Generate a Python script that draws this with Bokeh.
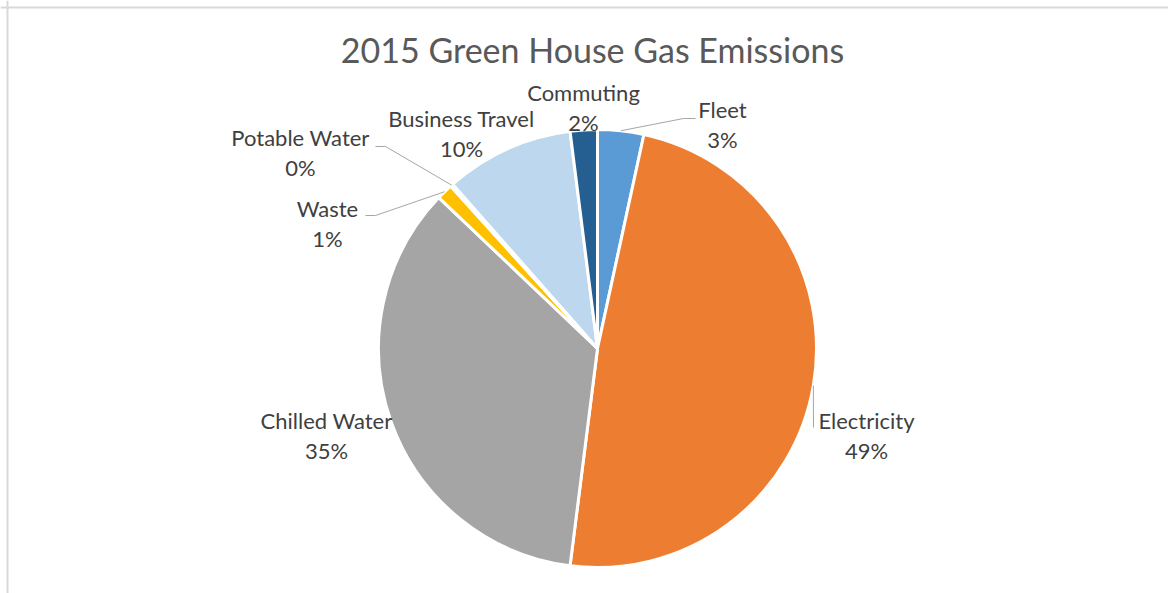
import math
from bokeh.plotting import figure
from bokeh.models import Range1d, Span, ColumnDataSource
from bokeh.core.properties import value
from bokeh.embed import file_html
from bokeh.resources import INLINE

# ---- data ----
categories = ["Fleet", "Electricity", "Chilled Water", "Waste", "Potable Water", "Business Travel", "Commuting"]
shares = [3.4, 48.6, 35.1, 1.2, 0.2, 9.5, 2.0]
colors = ["#5B9BD5", "#ED7D31", "#A5A5A5", "#FFC000", "#4472C4", "#BDD7EE", "#255E91"]
title_text = "2015 Green House Gas Emissions"

# ---- layout (pixel space, origin bottom-left of the plot) ----
W, H = 1168, 593
CX, CY, R = 597, 245, 219
FONT = "Lato"
LABEL_SIZE = "22px"

# label centre offsets (dx, dy) from pie centre for the name line
label_offsets = {
    "Fleet": (125, 239),
    "Electricity": (269, -72),
    "Chilled Water": (-271, -72),
    "Waste": (-270, 140),
    "Potable Water": (-297, 211),
    "Business Travel": (-136, 230),
    "Commuting": (-14, 256),
}
# leader lines: elbow and end offsets from centre
leaders = {
    "Fleet": [(86, 230), (98, 230)],
    "Electricity": [(216, -79), (216, -79)],
    "Potable Water": [(-212, 202), (-222, 202)],
    "Waste": [(-222, 133), (-232, 133)],
}

p = figure(width=W, height=H, output_backend="svg", toolbar_location=None,
           x_range=Range1d(0, W), y_range=Range1d(0, H), min_border=0)
p.axis.visible = False
p.grid.visible = False
p.outline_line_color = None
p.background_fill_color = "white"
p.border_fill_color = "white"

# chart-area border (left and top edges visible)
p.add_layout(Span(location=7, dimension="height", line_color="#d9d9d9", line_width=2))
p.add_layout(Span(location=H - 7, dimension="width", line_color="#d9d9d9", line_width=2))

total = sum(shares)
starts, ends, mids = [], [], []
cum = 0.0
for v in shares:
    a0 = cum / total
    cum += v
    a1 = cum / total
    # clockwise from 12 o'clock -> bokeh anticlockwise angles
    starts.append(math.pi / 2 - a1 * 2 * math.pi)
    ends.append(math.pi / 2 - a0 * 2 * math.pi)
    mids.append(math.pi / 2 - (a0 + a1) / 2 * 2 * math.pi)

src = ColumnDataSource(dict(cat=categories, start=starts, end=ends, color=colors,
                            x=[CX] * len(shares), y=[CY] * len(shares)))
p.wedge(x="x", y="y", radius=R, start_angle="start", end_angle="end",
        fill_color="color", line_color="white", line_width=3, source=src)

# leader lines
for i, c in enumerate(categories):
    if c in leaders:
        x0 = CX + R * math.cos(mids[i])
        y0 = CY + R * math.sin(mids[i])
        xs = [x0] + [CX + dx for dx, dy in leaders[c]]
        ys = [y0] + [CY + dy for dx, dy in leaders[c]]
        p.line(xs, ys, line_color="#a6a6a6", line_width=1)

# labels
names_x, names_y, pct_y, pct_t = [], [], [], []
for i, c in enumerate(categories):
    dx, dy = label_offsets[c]
    names_x.append(CX + dx)
    names_y.append(CY + dy)
    pct_y.append(CY + dy - 30)
    pct_t.append(f"{round(shares[i] / total * 100)}%")

p.text(x=names_x, y=names_y, text=categories, text_align="center", text_baseline="middle",
       text_font=value(FONT), text_font_size=LABEL_SIZE, text_color="#404040")
p.text(x=names_x, y=pct_y, text=pct_t, text_align="center", text_baseline="middle",
       text_font=value(FONT), text_font_size=LABEL_SIZE, text_color="#404040")

# title
p.text(x=[W / 2 + 8], y=[H - 49], text=[title_text], text_align="center", text_baseline="middle",
       text_font=value(FONT), text_font_size="34px", text_color="#595959")

open("out.html", "w").write(file_html(p, INLINE))
